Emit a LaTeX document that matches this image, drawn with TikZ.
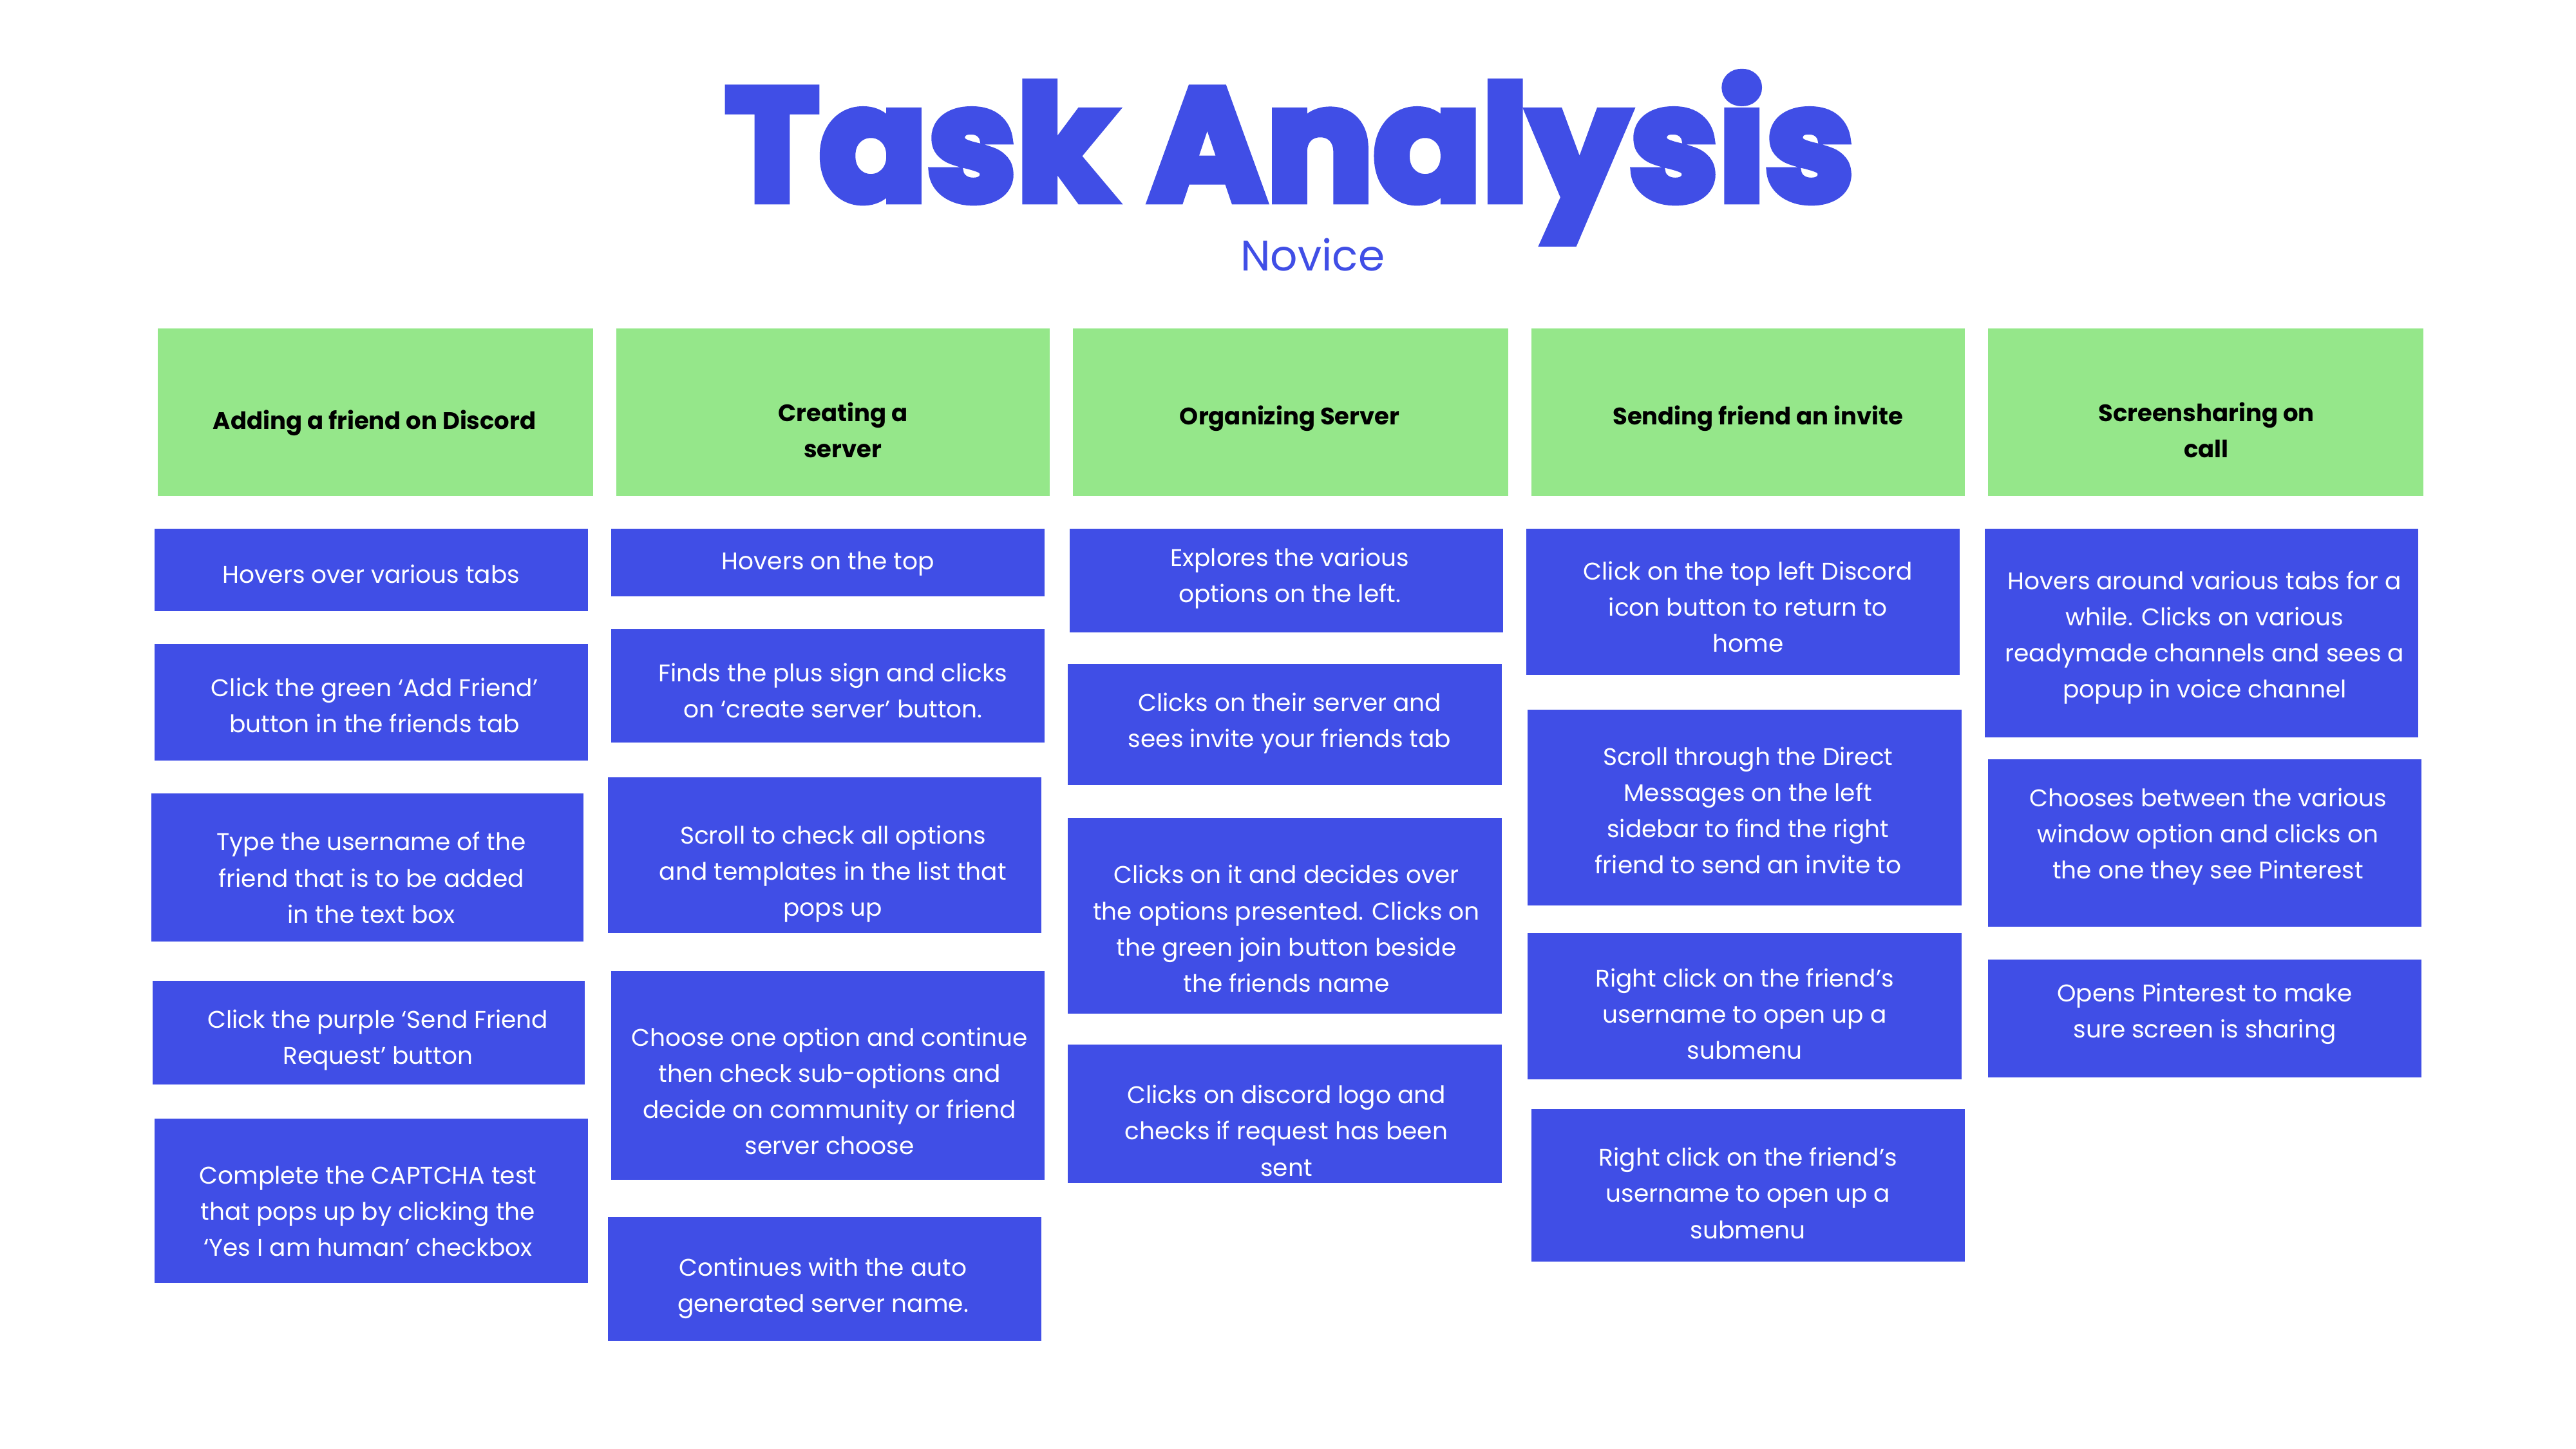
\documentclass[tikz,border=0pt]{standalone}
\usepackage{fontspec}
\setmainfont{Poppins}
\newfontfamily\titlefont[FakeBold=5]{Poppins Bold}
\definecolor{tblue}{HTML}{404EE6}
\definecolor{tgreen}{HTML}{95E78A}
\tikzset{
  bbox/.style={fill=tblue, draw=none, inner sep=0pt},
  gbox/.style={fill=tgreen, draw=none, inner sep=0pt},
  btext/.style={text=white, align=center, inner sep=0pt, yshift=-3.5pt,
    font=\fontsize{14.7}{22}\selectfont,
    execute at begin node=\strut, execute at end node=\strut},
  htext/.style={text=black, align=center, inner sep=0pt, yshift=-3pt,
    font=\fontsize{14.5}{22}\selectfont\bfseries,
    execute at begin node=\strut, execute at end node=\strut},
}
\newcommand\mybox[6]{%
  \node[#6, minimum width={(#4-#2)*1pt}, minimum height={(#5-#3)*1pt}]
    (#1) at ({(#2+#4)/2},{(#3+#5)/2}) {};}
\begin{document}
\begin{tikzpicture}[x=1pt,y=-1pt]
\useasboundingbox[fill=white] (0,0) rectangle (1568,882);
% title
\node[anchor=base, text=tblue, inner sep=0pt, font=\fontsize{97}{100}\titlefont] (title) at (785,122) {Task Analysis};
\node[anchor=base, text=tblue, inner sep=0pt, font=\fontsize{26}{30}\selectfont] (sub) at (799,165) {Novice};
% headers
\mybox{h1}{96}{200}{361}{302}{gbox}
\mybox{h2}{375}{200}{639}{302}{gbox}
\mybox{h3}{653}{200}{918}{302}{gbox}
\mybox{h4}{932}{200}{1196}{302}{gbox}
\mybox{h5}{1210}{200}{1475}{302}{gbox}
\node[htext] (h1t) at (228,254) {Adding a friend on Discord};
\node[htext] (h2t) at (513,262) {Creating a\\server};
\node[htext] (h3t) at (785,251) {Organizing Server};
\node[htext] (h4t) at (1070,251) {Sending friend an invite};
\node[htext] (h5t) at (1343,262) {Screensharing on\\call};
% column 1
\mybox{a1}{94}{322}{358}{372}{bbox}
\node[btext] (a1t) at (226,347) {Hovers over various tabs};
\mybox{a2}{94}{392}{358}{463}{bbox}
\node[btext] (a2t) at (228,429) {Click the green ‘Add Friend’\\button in the friends tab};
\mybox{a3}{92}{483}{355}{573}{bbox}
\node[btext] (a3t) at (226,534) {Type the username of the\\friend that is to be added\\in the text box};
\mybox{a4}{93}{597}{356}{660}{bbox}
\node[btext] (a4t) at (230,631) {Click the purple ‘Send Friend\\Request’ button};
\mybox{a5}{94}{681}{358}{781}{bbox}
\node[btext] (a5t) at (224,737) {Complete the CAPTCHA test\\that pops up by clicking the\\‘Yes I am human’ checkbox};
% column 2
\mybox{b1}{372}{322}{636}{363}{bbox}
\node[btext] (b1t) at (504,339) {Hovers on the top};
\mybox{b2}{372}{383}{636}{452}{bbox}
\node[btext] (b2t) at (507,420) {Finds the plus sign and clicks\\on ‘create server’ button.};
\mybox{b3}{370}{473}{634}{568}{bbox}
\node[btext] (b3t) at (507,530) {Scroll to check all options\\and templates in the list that\\pops up};
\mybox{b4}{372}{591}{636}{718}{bbox}
\node[btext] (b4t) at (505,664) {Choose one option and continue\\then check sub-options and\\decide on community or friend\\server choose};
\mybox{b5}{370}{741}{634}{816}{bbox}
\node[btext] (b5t) at (501,782) {Continues with the auto\\generated server name.};
% column 3
\mybox{c1}{651}{322}{915}{385}{bbox}
\node[btext] (c1t) at (785,350) {Explores the various\\options on the left.};
\mybox{c2}{650}{404}{914}{478}{bbox}
\node[btext] (c2t) at (785,438) {Clicks on their server and\\sees invite your friends tab};
\mybox{c3}{650}{498}{914}{617}{bbox}
\node[btext] (c3t) at (783,565) {Clicks on it and decides over\\the options presented. Clicks on\\the green join button beside\\the friends name};
\mybox{c4}{650}{636}{914}{720}{bbox}
\node[btext] (c4t) at (783,688) {Clicks on discord logo and\\checks if request has been\\sent};
% column 4
\mybox{d1}{929}{322}{1193}{411}{bbox}
\node[btext] (d1t) at (1064,369) {Click on the top left Discord\\icon button to return to\\home};
\mybox{d2}{930}{432}{1194}{551}{bbox}
\node[btext] (d2t) at (1064,493) {Scroll through the Direct\\Messages on the left\\sidebar to find the right\\friend to send an invite to};
\mybox{d3}{930}{568}{1194}{657}{bbox}
\node[btext] (d3t) at (1062,617) {Right click on the friend’s\\username to open up a\\submenu};
\mybox{d4}{932}{675}{1196}{768}{bbox}
\node[btext] (d4t) at (1064,726) {Right click on the friend’s\\username to open up a\\submenu};
% column 5
\mybox{e1}{1208}{322}{1472}{449}{bbox}
\node[btext] (e1t) at (1342,386) {Hovers around various tabs for a\\while. Clicks on various\\readymade channels and sees a\\popup in voice channel};
\mybox{e2}{1210}{462}{1474}{564}{bbox}
\node[btext] (e2t) at (1344,507) {Chooses between the various\\window option and clicks on\\the one they see Pinterest};
\mybox{e3}{1210}{584}{1474}{656}{bbox}
\node[btext] (e3t) at (1342,615) {Opens Pinterest to make\\sure screen is sharing};
\end{tikzpicture}
\end{document}
